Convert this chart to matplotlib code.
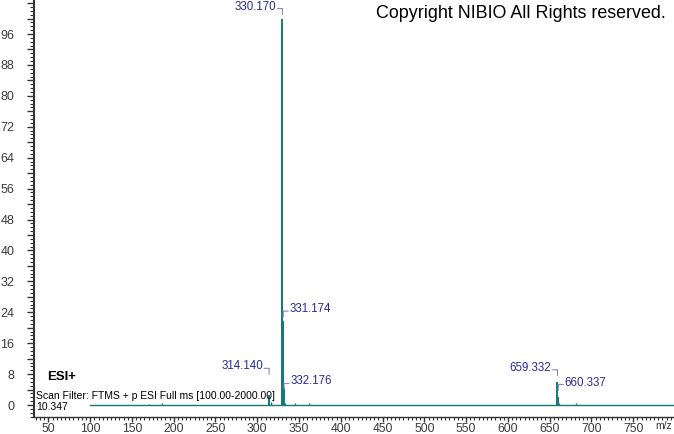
import matplotlib.pyplot as plt
from matplotlib.ticker import MultipleLocator, FuncFormatter
from matplotlib.transforms import offset_copy

plt.rcParams['font.family'] = ['Liberation Sans', 'DejaVu Sans']

# labelled peaks (m/z, relative abundance %)
peak_mz = [314.140, 330.170, 331.174, 332.176, 659.332, 660.337]
peak_int = [2.5, 100.0, 21.7, 4.3, 6.0, 2.2]
peak_labels = ["314.140", "330.170", "331.174", "332.176", "659.332", "660.337"]

# small unlabelled peaks
minor_mz = [170.1, 186.1, 316.1, 329.2, 333.2, 345.2, 362.2, 661.3, 681.3]
minor_int = [0.3, 0.5, 0.7, 0.6, 0.6, 0.4, 0.4, 0.6, 0.4]

scan_lo, scan_hi = 100.0, 2000.0
y_ticks = list(range(0, 97, 8))
x_ticks = list(range(50, 751, 50))

# label layout: side of the stick, lift above peak top (px)
label_side = ['L', 'L', 'R', 'R', 'L', 'R']
label_lift = [27, 10, 10, 5, 12, 12]

teal = '#137878'
navy = '#2a2a96'
brk = '#8a8ab8'
axc = '#333333'

fig = plt.figure(figsize=(6.74, 4.34), dpi=100)
ax = fig.add_axes([34 / 674, 17 / 434, 640 / 674, 417 / 434])
ax.set_xlim(32.8, 798.8)
ax.set_ylim(-3.1, 104.8)

# baseline and sticks
ax.plot([scan_lo, ax.get_xlim()[1]], [0, 0], color=teal, lw=1.0)
ax.vlines(minor_mz, 0, minor_int, color=teal, lw=1.0)
ax.vlines(peak_mz, 0, peak_int, color=teal, lw=1.4)

# peak labels with small brackets
for mz, h, lab, side, lift in zip(peak_mz, peak_int, peak_labels, label_side, label_lift):
    base = offset_copy(ax.transData, fig=fig, x=0, y=lift, units='dots')
    if side == 'L':
        hx, ha, tx = -5, 'right', -6
    else:
        hx, ha, tx = 5, 'left', 6
    t_h = offset_copy(base, fig=fig, x=hx, y=0, units='dots')
    t_low = offset_copy(ax.transData, fig=fig, x=0, y=lift - 6, units='dots')
    ax.annotate('', xy=(mz, h), xycoords=t_low, xytext=(mz, h), textcoords=base,
                arrowprops=dict(arrowstyle='-', color=brk, lw=0.8, shrinkA=0, shrinkB=0))
    ax.annotate('', xy=(mz, h), xycoords=t_h, xytext=(mz, h), textcoords=base,
                arrowprops=dict(arrowstyle='-', color=brk, lw=0.8, shrinkA=0, shrinkB=0))
    t_txt = offset_copy(base, fig=fig, x=tx, y=2, units='dots')
    ax.text(mz, h, lab, transform=t_txt, ha=ha, va='center', fontsize=8.3, color=navy)

# axes styling
for s in ['top', 'right']:
    ax.spines[s].set_visible(False)
ax.spines['left'].set_color(axc)
ax.spines['left'].set_linewidth(1.5)
ax.spines['bottom'].set_color(axc)
ax.spines['bottom'].set_linewidth(1.0)

ax.set_yticks(range(0, 105, 4))
ax.yaxis.set_major_formatter(FuncFormatter(lambda v, p: '%d' % v if v in y_ticks else ''))
ax.yaxis.set_minor_locator(MultipleLocator(1))
ax.set_xticks(x_ticks)
ax.xaxis.set_minor_locator(MultipleLocator(5))
ax.tick_params(axis='y', which='major', length=5, width=1, color=axc,
               labelsize=9, labelcolor='#3a3a3a', pad=9)
ax.tick_params(axis='y', which='minor', length=3, width=0.8, color=axc)
ax.tick_params(axis='x', which='major', length=3.5, width=1, color=axc,
               labelsize=8.7, labelcolor='#3a3a3a', pad=0.5)
ax.tick_params(axis='x', which='minor', length=2.5, width=0.8, color=axc)

# text annotations
fig.text(376 / 674, 1 - 14 / 434, 'Copyright NIBIO All Rights reserved.',
         fontsize=12.9, color='black', va='center', ha='left')
fig.text(47 / 674, 1 - 377 / 434, 'ESI+', fontsize=9.5, fontweight='bold', va='center')
fig.text(36 / 674, 1 - 396 / 434,
         'Scan Filter: FTMS + p ESI Full ms [%.2f-%.2f]' % (scan_lo, scan_hi),
         fontsize=7.5, va='center')
fig.text(36 / 674, 1 - 407 / 434, '10.347', fontsize=7.5, va='center')
fig.text(664 / 674, 1 - 426 / 434, 'm/z', fontsize=7.5, va='center', ha='center',
         color='#333333')

fig.savefig('out.png', dpi=100)
